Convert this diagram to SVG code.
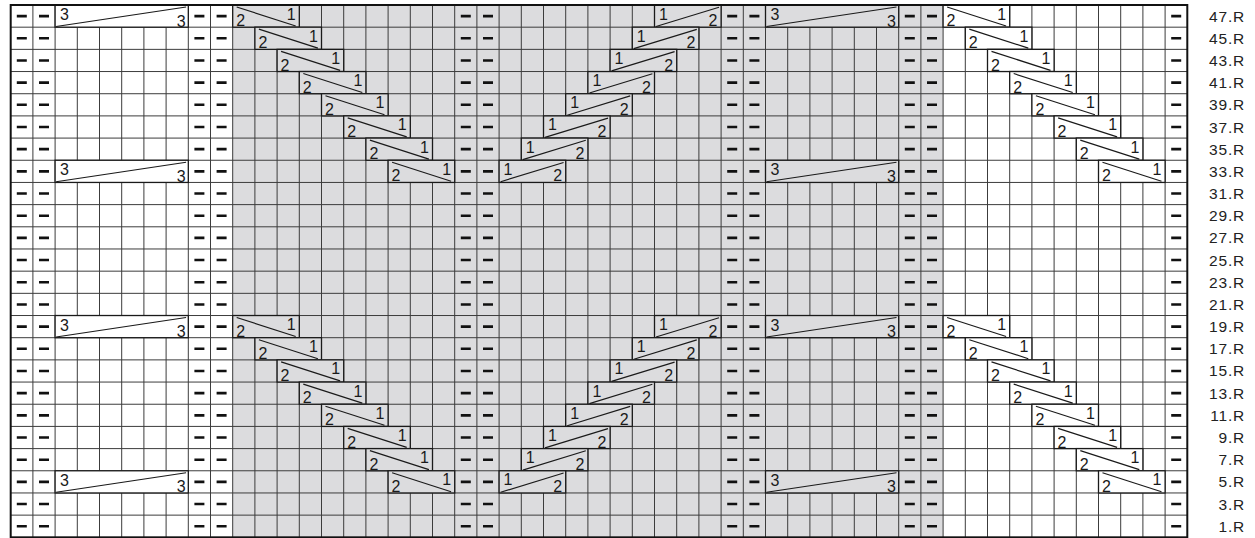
<svg xmlns="http://www.w3.org/2000/svg" width="1255" height="538" viewBox="0 0 1255 538">
<style>
.g{fill:#dcdcde}
.w{fill:#ffffff}
.cb{stroke:#1a1a1a;stroke-width:1.3}
.dl{stroke:#1a1a1a;stroke-width:1.2;fill:none}
.n{font-family:"Liberation Sans",Arial,sans-serif;font-size:16px;fill:#1a1a1a}
.e{text-anchor:end}
.lbl{font-family:"Liberation Sans",Arial,sans-serif;font-size:15.5px;fill:#222;text-anchor:end;letter-spacing:0.8px}
.grid{stroke:#3c3c3c;stroke-width:1;fill:none}
.purl{stroke:#111;stroke-width:10;stroke-dasharray:2.6 19.58;fill:none}
</style>
<rect x="0" y="0" width="1255" height="538" fill="#fff"/>
<g id="background">
<rect x="10.7" y="5" width="1176.6" height="532.32" class="w"/>
<rect x="232.7" y="5" width="710.4" height="532.32" class="g"/>
</g>
<path id="grid" class="grid" d="M32.9 5V537.32M55.1 5V537.32M77.3 5V537.32M99.5 5V537.32M121.7 5V537.32M143.9 5V537.32M166.1 5V537.32M188.3 5V537.32M210.5 5V537.32M232.7 5V537.32M254.9 5V537.32M277.1 5V537.32M299.3 5V537.32M321.5 5V537.32M343.7 5V537.32M365.9 5V537.32M388.1 5V537.32M410.3 5V537.32M432.5 5V537.32M454.7 5V537.32M476.9 5V537.32M499.1 5V537.32M521.3 5V537.32M543.5 5V537.32M565.7 5V537.32M587.9 5V537.32M610.1 5V537.32M632.3 5V537.32M654.5 5V537.32M676.7 5V537.32M698.9 5V537.32M721.1 5V537.32M743.3 5V537.32M765.5 5V537.32M787.7 5V537.32M809.9 5V537.32M832.1 5V537.32M854.3 5V537.32M876.5 5V537.32M898.7 5V537.32M920.9 5V537.32M943.1 5V537.32M965.3 5V537.32M987.5 5V537.32M1009.7 5V537.32M1031.9 5V537.32M1054.1 5V537.32M1076.3 5V537.32M1098.5 5V537.32M1120.7 5V537.32M1142.9 5V537.32M1165.1 5V537.32M10.7 27.18H1187.3M10.7 49.36H1187.3M10.7 71.54H1187.3M10.7 93.72H1187.3M10.7 115.9H1187.3M10.7 138.08H1187.3M10.7 160.26H1187.3M10.7 182.44H1187.3M10.7 204.62H1187.3M10.7 226.8H1187.3M10.7 248.98H1187.3M10.7 271.16H1187.3M10.7 293.34H1187.3M10.7 315.52H1187.3M10.7 337.7H1187.3M10.7 359.88H1187.3M10.7 382.06H1187.3M10.7 404.24H1187.3M10.7 426.42H1187.3M10.7 448.6H1187.3M10.7 470.78H1187.3M10.7 492.96H1187.3M10.7 515.14H1187.3"/>
<g id="purls" class="purl">
<line x1="21.8" y1="14.79" x2="21.8" y2="537"/>
<line x1="44" y1="14.79" x2="44" y2="537"/>
<line x1="199.4" y1="14.79" x2="199.4" y2="537"/>
<line x1="221.6" y1="14.79" x2="221.6" y2="537"/>
<line x1="465.8" y1="14.79" x2="465.8" y2="537"/>
<line x1="488" y1="14.79" x2="488" y2="537"/>
<line x1="732.2" y1="14.79" x2="732.2" y2="537"/>
<line x1="754.4" y1="14.79" x2="754.4" y2="537"/>
<line x1="909.8" y1="14.79" x2="909.8" y2="537"/>
<line x1="932" y1="14.79" x2="932" y2="537"/>
<line x1="1176.2" y1="14.79" x2="1176.2" y2="537"/>
</g>
<g id="cables-3-3-left">
<g id="c33L47" transform="translate(55.1,5)"><rect class="cb w" width="133.2" height="22.18"/><line class="dl" x1="1" y1="21.5" x2="131" y2="2"/><text class="n" x="5" y="15">3</text><text class="n e" x="130.5" y="21.5">3</text></g>
<g id="c33L33" transform="translate(55.1,160.26)"><rect class="cb w" width="133.2" height="22.18"/><line class="dl" x1="1" y1="21.5" x2="131" y2="2"/><text class="n" x="5" y="15">3</text><text class="n e" x="130.5" y="21.5">3</text></g>
<g id="c33L19" transform="translate(55.1,315.52)"><rect class="cb w" width="133.2" height="22.18"/><line class="dl" x1="1" y1="21.5" x2="131" y2="2"/><text class="n" x="5" y="15">3</text><text class="n e" x="130.5" y="21.5">3</text></g>
<g id="c33L5" transform="translate(55.1,470.78)"><rect class="cb w" width="133.2" height="22.18"/><line class="dl" x1="1" y1="21.5" x2="131" y2="2"/><text class="n" x="5" y="15">3</text><text class="n e" x="130.5" y="21.5">3</text></g>
</g>
<g id="cables-3-3-right">
<g id="c33R47" transform="translate(765.5,5)"><rect class="cb g" width="133.2" height="22.18"/><line class="dl" x1="1" y1="21.5" x2="131" y2="2"/><text class="n" x="5" y="15">3</text><text class="n e" x="130.5" y="21.5">3</text></g>
<g id="c33R33" transform="translate(765.5,160.26)"><rect class="cb g" width="133.2" height="22.18"/><line class="dl" x1="1" y1="21.5" x2="131" y2="2"/><text class="n" x="5" y="15">3</text><text class="n e" x="130.5" y="21.5">3</text></g>
<g id="c33R19" transform="translate(765.5,315.52)"><rect class="cb g" width="133.2" height="22.18"/><line class="dl" x1="1" y1="21.5" x2="131" y2="2"/><text class="n" x="5" y="15">3</text><text class="n e" x="130.5" y="21.5">3</text></g>
<g id="c33R5" transform="translate(765.5,470.78)"><rect class="cb g" width="133.2" height="22.18"/><line class="dl" x1="1" y1="21.5" x2="131" y2="2"/><text class="n" x="5" y="15">3</text><text class="n e" x="130.5" y="21.5">3</text></g>
</g>
<g id="panel1">
<g id="p1r47" transform="translate(232.7,5)"><rect class="cb g" width="66.6" height="22.18"/><line class="dl" x1="4" y1="2" x2="63" y2="21"/><text class="n" x="3.5" y="21.2">2</text><text class="n e" x="63" y="14.5">1</text></g>
<g id="p1r45" transform="translate(254.9,27.18)"><rect class="cb g" width="66.6" height="22.18"/><line class="dl" x1="4" y1="2" x2="63" y2="21"/><text class="n" x="3.5" y="21.2">2</text><text class="n e" x="63" y="14.5">1</text></g>
<g id="p1r43" transform="translate(277.1,49.36)"><rect class="cb g" width="66.6" height="22.18"/><line class="dl" x1="4" y1="2" x2="63" y2="21"/><text class="n" x="3.5" y="21.2">2</text><text class="n e" x="63" y="14.5">1</text></g>
<g id="p1r41" transform="translate(299.3,71.54)"><rect class="cb g" width="66.6" height="22.18"/><line class="dl" x1="4" y1="2" x2="63" y2="21"/><text class="n" x="3.5" y="21.2">2</text><text class="n e" x="63" y="14.5">1</text></g>
<g id="p1r39" transform="translate(321.5,93.72)"><rect class="cb g" width="66.6" height="22.18"/><line class="dl" x1="4" y1="2" x2="63" y2="21"/><text class="n" x="3.5" y="21.2">2</text><text class="n e" x="63" y="14.5">1</text></g>
<g id="p1r37" transform="translate(343.7,115.9)"><rect class="cb g" width="66.6" height="22.18"/><line class="dl" x1="4" y1="2" x2="63" y2="21"/><text class="n" x="3.5" y="21.2">2</text><text class="n e" x="63" y="14.5">1</text></g>
<g id="p1r35" transform="translate(365.9,138.08)"><rect class="cb g" width="66.6" height="22.18"/><line class="dl" x1="4" y1="2" x2="63" y2="21"/><text class="n" x="3.5" y="21.2">2</text><text class="n e" x="63" y="14.5">1</text></g>
<g id="p1r33" transform="translate(388.1,160.26)"><rect class="cb g" width="66.6" height="22.18"/><line class="dl" x1="4" y1="2" x2="63" y2="21"/><text class="n" x="3.5" y="21.2">2</text><text class="n e" x="63" y="14.5">1</text></g>
<g id="p1r19" transform="translate(232.7,315.52)"><rect class="cb g" width="66.6" height="22.18"/><line class="dl" x1="4" y1="2" x2="63" y2="21"/><text class="n" x="3.5" y="21.2">2</text><text class="n e" x="63" y="14.5">1</text></g>
<g id="p1r17" transform="translate(254.9,337.7)"><rect class="cb g" width="66.6" height="22.18"/><line class="dl" x1="4" y1="2" x2="63" y2="21"/><text class="n" x="3.5" y="21.2">2</text><text class="n e" x="63" y="14.5">1</text></g>
<g id="p1r15" transform="translate(277.1,359.88)"><rect class="cb g" width="66.6" height="22.18"/><line class="dl" x1="4" y1="2" x2="63" y2="21"/><text class="n" x="3.5" y="21.2">2</text><text class="n e" x="63" y="14.5">1</text></g>
<g id="p1r13" transform="translate(299.3,382.06)"><rect class="cb g" width="66.6" height="22.18"/><line class="dl" x1="4" y1="2" x2="63" y2="21"/><text class="n" x="3.5" y="21.2">2</text><text class="n e" x="63" y="14.5">1</text></g>
<g id="p1r11" transform="translate(321.5,404.24)"><rect class="cb g" width="66.6" height="22.18"/><line class="dl" x1="4" y1="2" x2="63" y2="21"/><text class="n" x="3.5" y="21.2">2</text><text class="n e" x="63" y="14.5">1</text></g>
<g id="p1r9" transform="translate(343.7,426.42)"><rect class="cb g" width="66.6" height="22.18"/><line class="dl" x1="4" y1="2" x2="63" y2="21"/><text class="n" x="3.5" y="21.2">2</text><text class="n e" x="63" y="14.5">1</text></g>
<g id="p1r7" transform="translate(365.9,448.6)"><rect class="cb g" width="66.6" height="22.18"/><line class="dl" x1="4" y1="2" x2="63" y2="21"/><text class="n" x="3.5" y="21.2">2</text><text class="n e" x="63" y="14.5">1</text></g>
<g id="p1r5" transform="translate(388.1,470.78)"><rect class="cb g" width="66.6" height="22.18"/><line class="dl" x1="4" y1="2" x2="63" y2="21"/><text class="n" x="3.5" y="21.2">2</text><text class="n e" x="63" y="14.5">1</text></g>
</g>
<g id="panel2">
<g id="p2r47" transform="translate(654.5,5)"><rect class="cb g" width="66.6" height="22.18"/><line class="dl" x1="1.5" y1="21.5" x2="64.5" y2="2.2"/><text class="n" x="4.5" y="14.5">1</text><text class="n e" x="63" y="21.2">2</text></g>
<g id="p2r45" transform="translate(632.3,27.18)"><rect class="cb g" width="66.6" height="22.18"/><line class="dl" x1="1.5" y1="21.5" x2="64.5" y2="2.2"/><text class="n" x="4.5" y="14.5">1</text><text class="n e" x="63" y="21.2">2</text></g>
<g id="p2r43" transform="translate(610.1,49.36)"><rect class="cb g" width="66.6" height="22.18"/><line class="dl" x1="1.5" y1="21.5" x2="64.5" y2="2.2"/><text class="n" x="4.5" y="14.5">1</text><text class="n e" x="63" y="21.2">2</text></g>
<g id="p2r41" transform="translate(587.9,71.54)"><rect class="cb g" width="66.6" height="22.18"/><line class="dl" x1="1.5" y1="21.5" x2="64.5" y2="2.2"/><text class="n" x="4.5" y="14.5">1</text><text class="n e" x="63" y="21.2">2</text></g>
<g id="p2r39" transform="translate(565.7,93.72)"><rect class="cb g" width="66.6" height="22.18"/><line class="dl" x1="1.5" y1="21.5" x2="64.5" y2="2.2"/><text class="n" x="4.5" y="14.5">1</text><text class="n e" x="63" y="21.2">2</text></g>
<g id="p2r37" transform="translate(543.5,115.9)"><rect class="cb g" width="66.6" height="22.18"/><line class="dl" x1="1.5" y1="21.5" x2="64.5" y2="2.2"/><text class="n" x="4.5" y="14.5">1</text><text class="n e" x="63" y="21.2">2</text></g>
<g id="p2r35" transform="translate(521.3,138.08)"><rect class="cb g" width="66.6" height="22.18"/><line class="dl" x1="1.5" y1="21.5" x2="64.5" y2="2.2"/><text class="n" x="4.5" y="14.5">1</text><text class="n e" x="63" y="21.2">2</text></g>
<g id="p2r33" transform="translate(499.1,160.26)"><rect class="cb g" width="66.6" height="22.18"/><line class="dl" x1="1.5" y1="21.5" x2="64.5" y2="2.2"/><text class="n" x="4.5" y="14.5">1</text><text class="n e" x="63" y="21.2">2</text></g>
<g id="p2r19" transform="translate(654.5,315.52)"><rect class="cb g" width="66.6" height="22.18"/><line class="dl" x1="1.5" y1="21.5" x2="64.5" y2="2.2"/><text class="n" x="4.5" y="14.5">1</text><text class="n e" x="63" y="21.2">2</text></g>
<g id="p2r17" transform="translate(632.3,337.7)"><rect class="cb g" width="66.6" height="22.18"/><line class="dl" x1="1.5" y1="21.5" x2="64.5" y2="2.2"/><text class="n" x="4.5" y="14.5">1</text><text class="n e" x="63" y="21.2">2</text></g>
<g id="p2r15" transform="translate(610.1,359.88)"><rect class="cb g" width="66.6" height="22.18"/><line class="dl" x1="1.5" y1="21.5" x2="64.5" y2="2.2"/><text class="n" x="4.5" y="14.5">1</text><text class="n e" x="63" y="21.2">2</text></g>
<g id="p2r13" transform="translate(587.9,382.06)"><rect class="cb g" width="66.6" height="22.18"/><line class="dl" x1="1.5" y1="21.5" x2="64.5" y2="2.2"/><text class="n" x="4.5" y="14.5">1</text><text class="n e" x="63" y="21.2">2</text></g>
<g id="p2r11" transform="translate(565.7,404.24)"><rect class="cb g" width="66.6" height="22.18"/><line class="dl" x1="1.5" y1="21.5" x2="64.5" y2="2.2"/><text class="n" x="4.5" y="14.5">1</text><text class="n e" x="63" y="21.2">2</text></g>
<g id="p2r9" transform="translate(543.5,426.42)"><rect class="cb g" width="66.6" height="22.18"/><line class="dl" x1="1.5" y1="21.5" x2="64.5" y2="2.2"/><text class="n" x="4.5" y="14.5">1</text><text class="n e" x="63" y="21.2">2</text></g>
<g id="p2r7" transform="translate(521.3,448.6)"><rect class="cb g" width="66.6" height="22.18"/><line class="dl" x1="1.5" y1="21.5" x2="64.5" y2="2.2"/><text class="n" x="4.5" y="14.5">1</text><text class="n e" x="63" y="21.2">2</text></g>
<g id="p2r5" transform="translate(499.1,470.78)"><rect class="cb g" width="66.6" height="22.18"/><line class="dl" x1="1.5" y1="21.5" x2="64.5" y2="2.2"/><text class="n" x="4.5" y="14.5">1</text><text class="n e" x="63" y="21.2">2</text></g>
</g>
<g id="panel3">
<g id="p3r47" transform="translate(943.1,5)"><rect class="cb w" width="66.6" height="22.18"/><line class="dl" x1="4" y1="2" x2="63" y2="21"/><text class="n" x="3.5" y="21.2">2</text><text class="n e" x="63" y="14.5">1</text></g>
<g id="p3r45" transform="translate(965.3,27.18)"><rect class="cb w" width="66.6" height="22.18"/><line class="dl" x1="4" y1="2" x2="63" y2="21"/><text class="n" x="3.5" y="21.2">2</text><text class="n e" x="63" y="14.5">1</text></g>
<g id="p3r43" transform="translate(987.5,49.36)"><rect class="cb w" width="66.6" height="22.18"/><line class="dl" x1="4" y1="2" x2="63" y2="21"/><text class="n" x="3.5" y="21.2">2</text><text class="n e" x="63" y="14.5">1</text></g>
<g id="p3r41" transform="translate(1009.7,71.54)"><rect class="cb w" width="66.6" height="22.18"/><line class="dl" x1="4" y1="2" x2="63" y2="21"/><text class="n" x="3.5" y="21.2">2</text><text class="n e" x="63" y="14.5">1</text></g>
<g id="p3r39" transform="translate(1031.9,93.72)"><rect class="cb w" width="66.6" height="22.18"/><line class="dl" x1="4" y1="2" x2="63" y2="21"/><text class="n" x="3.5" y="21.2">2</text><text class="n e" x="63" y="14.5">1</text></g>
<g id="p3r37" transform="translate(1054.1,115.9)"><rect class="cb w" width="66.6" height="22.18"/><line class="dl" x1="4" y1="2" x2="63" y2="21"/><text class="n" x="3.5" y="21.2">2</text><text class="n e" x="63" y="14.5">1</text></g>
<g id="p3r35" transform="translate(1076.3,138.08)"><rect class="cb w" width="66.6" height="22.18"/><line class="dl" x1="4" y1="2" x2="63" y2="21"/><text class="n" x="3.5" y="21.2">2</text><text class="n e" x="63" y="14.5">1</text></g>
<g id="p3r33" transform="translate(1098.5,160.26)"><rect class="cb w" width="66.6" height="22.18"/><line class="dl" x1="4" y1="2" x2="63" y2="21"/><text class="n" x="3.5" y="21.2">2</text><text class="n e" x="63" y="14.5">1</text></g>
<g id="p3r19" transform="translate(943.1,315.52)"><rect class="cb w" width="66.6" height="22.18"/><line class="dl" x1="4" y1="2" x2="63" y2="21"/><text class="n" x="3.5" y="21.2">2</text><text class="n e" x="63" y="14.5">1</text></g>
<g id="p3r17" transform="translate(965.3,337.7)"><rect class="cb w" width="66.6" height="22.18"/><line class="dl" x1="4" y1="2" x2="63" y2="21"/><text class="n" x="3.5" y="21.2">2</text><text class="n e" x="63" y="14.5">1</text></g>
<g id="p3r15" transform="translate(987.5,359.88)"><rect class="cb w" width="66.6" height="22.18"/><line class="dl" x1="4" y1="2" x2="63" y2="21"/><text class="n" x="3.5" y="21.2">2</text><text class="n e" x="63" y="14.5">1</text></g>
<g id="p3r13" transform="translate(1009.7,382.06)"><rect class="cb w" width="66.6" height="22.18"/><line class="dl" x1="4" y1="2" x2="63" y2="21"/><text class="n" x="3.5" y="21.2">2</text><text class="n e" x="63" y="14.5">1</text></g>
<g id="p3r11" transform="translate(1031.9,404.24)"><rect class="cb w" width="66.6" height="22.18"/><line class="dl" x1="4" y1="2" x2="63" y2="21"/><text class="n" x="3.5" y="21.2">2</text><text class="n e" x="63" y="14.5">1</text></g>
<g id="p3r9" transform="translate(1054.1,426.42)"><rect class="cb w" width="66.6" height="22.18"/><line class="dl" x1="4" y1="2" x2="63" y2="21"/><text class="n" x="3.5" y="21.2">2</text><text class="n e" x="63" y="14.5">1</text></g>
<g id="p3r7" transform="translate(1076.3,448.6)"><rect class="cb w" width="66.6" height="22.18"/><line class="dl" x1="4" y1="2" x2="63" y2="21"/><text class="n" x="3.5" y="21.2">2</text><text class="n e" x="63" y="14.5">1</text></g>
<g id="p3r5" transform="translate(1098.5,470.78)"><rect class="cb w" width="66.6" height="22.18"/><line class="dl" x1="4" y1="2" x2="63" y2="21"/><text class="n" x="3.5" y="21.2">2</text><text class="n e" x="63" y="14.5">1</text></g>
</g>
<rect id="border" x="10.7" y="5" width="1176.6" height="532.32" fill="none" stroke="#111" stroke-width="2"/>
<g id="row-labels" class="lbl">
<text x="1245" y="21.6">47.R</text>
<text x="1245" y="43.78">45.R</text>
<text x="1245" y="65.96">43.R</text>
<text x="1245" y="88.14">41.R</text>
<text x="1245" y="110.32">39.R</text>
<text x="1245" y="132.5">37.R</text>
<text x="1245" y="154.68">35.R</text>
<text x="1245" y="176.86">33.R</text>
<text x="1245" y="199.04">31.R</text>
<text x="1245" y="221.22">29.R</text>
<text x="1245" y="243.4">27.R</text>
<text x="1245" y="265.58">25.R</text>
<text x="1245" y="287.76">23.R</text>
<text x="1245" y="309.94">21.R</text>
<text x="1245" y="332.12">19.R</text>
<text x="1245" y="354.3">17.R</text>
<text x="1245" y="376.48">15.R</text>
<text x="1245" y="398.66">13.R</text>
<text x="1245" y="420.84">11.R</text>
<text x="1245" y="443.02">9.R</text>
<text x="1245" y="465.2">7.R</text>
<text x="1245" y="487.38">5.R</text>
<text x="1245" y="509.56">3.R</text>
<text x="1245" y="531.74">1.R</text>
</g>
</svg>
